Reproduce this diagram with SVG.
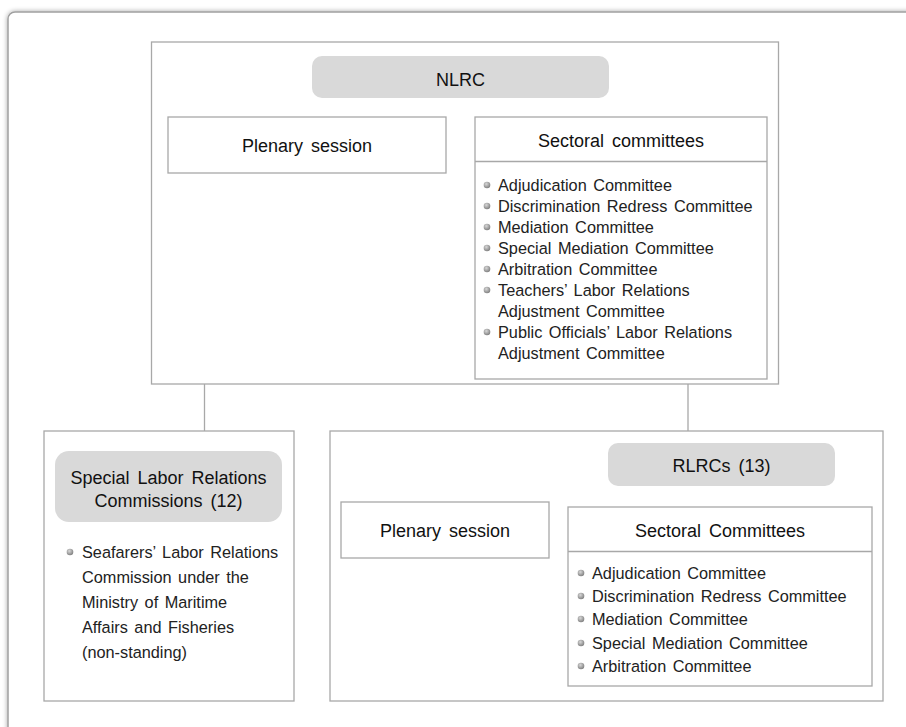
<svg xmlns="http://www.w3.org/2000/svg" width="906" height="727" viewBox="0 0 906 727">
<defs>
<filter id="sh" x="-5%" y="-5%" width="110%" height="110%">
<feGaussianBlur in="SourceAlpha" stdDeviation="2.5"/>
<feOffset dx="0" dy="0" result="b"/>
<feComponentTransfer><feFuncA type="linear" slope="0.35"/></feComponentTransfer>
<feMerge><feMergeNode/><feMergeNode in="SourceGraphic"/></feMerge>
</filter>
<radialGradient id="bg" cx="0.4" cy="0.35" r="0.7">
<stop offset="0" stop-color="#d8d8d8"/>
<stop offset="1" stop-color="#7a7a7a"/>
</radialGradient>
<style>
.box{fill:#fff;stroke:#a8a8a8;stroke-width:1.3}
.pill{fill:#d9d9d9;stroke:none}
.hd{font-family:"Liberation Sans",Arial,sans-serif;font-size:18px;fill:#111;text-anchor:middle;word-spacing:3px}
.it{font-family:"Liberation Sans",Arial,sans-serif;font-size:16.3px;fill:#222;word-spacing:2px}
.conn{stroke:#a8a8a8;stroke-width:1.3;fill:none}
.dot{fill:url(#bg)}
</style>
</defs>
<rect x="0" y="0" width="906" height="727" fill="#fff"/>
<rect x="8" y="12" width="930" height="760" rx="7" fill="#fff" stroke="#a0a0a0" stroke-width="1.5" filter="url(#sh)"/>

<g id="connectors">
<line class="conn" x1="204.5" y1="384" x2="204.5" y2="431"/>
<line class="conn" x1="688" y1="384" x2="688" y2="431"/>
</g>

<g id="nlrc">
<rect class="box" x="151.5" y="42" width="627" height="342"/>
<rect class="pill" x="312" y="56" width="297" height="42" rx="10"/>
<text class="hd" x="460.5" y="86">NLRC</text>
</g>

<g id="nlrc-plenary">
<rect class="box" x="168" y="117" width="278" height="56"/>
<text class="hd" x="307" y="152">Plenary session</text>
</g>

<g id="nlrc-sectoral">
<rect class="box" x="475" y="117" width="292" height="262"/>
<line class="box" x1="475" y1="161.5" x2="767" y2="161.5"/>
<text class="hd" x="621" y="147">Sectoral committees</text>
<circle class="dot" cx="487" cy="185" r="3.3"/>
<text class="it" x="498" y="191">Adjudication Committee</text>
<circle class="dot" cx="487" cy="206" r="3.3"/>
<text class="it" x="498" y="212">Discrimination Redress Committee</text>
<circle class="dot" cx="487" cy="227" r="3.3"/>
<text class="it" x="498" y="233">Mediation Committee</text>
<circle class="dot" cx="487" cy="248" r="3.3"/>
<text class="it" x="498" y="254">Special Mediation Committee</text>
<circle class="dot" cx="487" cy="269" r="3.3"/>
<text class="it" x="498" y="275">Arbitration Committee</text>
<circle class="dot" cx="487" cy="290" r="3.3"/>
<text class="it" x="498" y="296">Teachers’ Labor Relations</text>
<text class="it" x="498" y="317">Adjustment Committee</text>
<circle class="dot" cx="487" cy="332" r="3.3"/>
<text class="it" x="498" y="338">Public Officials’ Labor Relations</text>
<text class="it" x="498" y="359">Adjustment Committee</text>
</g>

<g id="special">
<rect class="box" x="44" y="431" width="250" height="270"/>
<rect class="pill" x="55" y="451" width="227" height="71" rx="14"/>
<text class="hd" x="168.5" y="484">Special Labor Relations</text>
<text class="hd" x="168.5" y="507">Commissions (12)</text>
<circle class="dot" cx="70" cy="552" r="3.3"/>
<text class="it" x="82" y="558">Seafarers’ Labor Relations</text>
<text class="it" x="82" y="583">Commission under the</text>
<text class="it" x="82" y="608">Ministry of Maritime</text>
<text class="it" x="82" y="633">Affairs and Fisheries</text>
<text class="it" x="82" y="658">(non-standing)</text>
</g>

<g id="rlrc">
<rect class="box" x="330" y="431" width="553" height="270"/>
<rect class="pill" x="608" y="443" width="227" height="43" rx="10"/>
<text class="hd" x="721.5" y="472">RLRCs (13)</text>
</g>

<g id="rlrc-plenary">
<rect class="box" x="341" y="502" width="208" height="56"/>
<text class="hd" x="445" y="537">Plenary session</text>
</g>

<g id="rlrc-sectoral">
<rect class="box" x="568" y="507" width="304" height="179"/>
<line class="box" x1="568" y1="551.5" x2="872" y2="551.5"/>
<text class="hd" x="720" y="537">Sectoral Committees</text>
<circle class="dot" cx="581" cy="573" r="3.3"/>
<text class="it" x="592" y="579">Adjudication Committee</text>
<circle class="dot" cx="581" cy="596" r="3.3"/>
<text class="it" x="592" y="602">Discrimination Redress Committee</text>
<circle class="dot" cx="581" cy="619" r="3.3"/>
<text class="it" x="592" y="625">Mediation Committee</text>
<circle class="dot" cx="581" cy="643" r="3.3"/>
<text class="it" x="592" y="649">Special Mediation Committee</text>
<circle class="dot" cx="581" cy="666" r="3.3"/>
<text class="it" x="592" y="672">Arbitration Committee</text>
</g>
</svg>
